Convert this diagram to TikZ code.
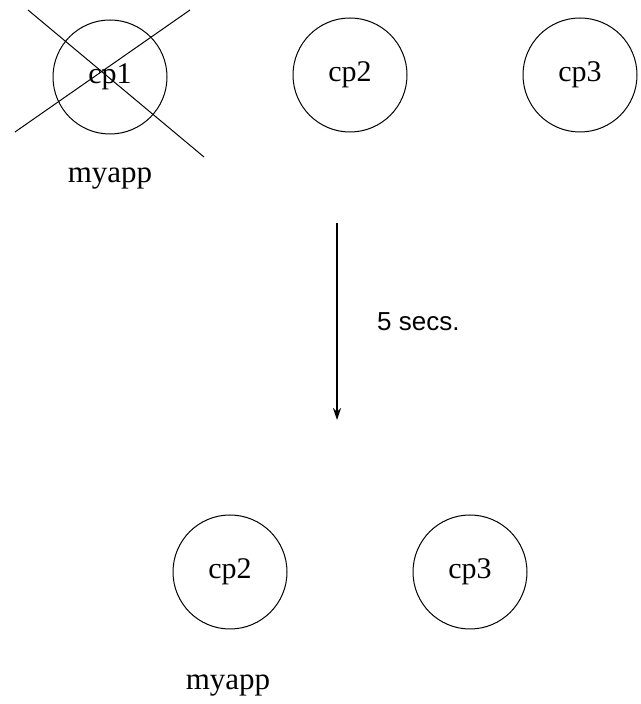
\documentclass[tikz,border=0pt]{standalone}
\usepackage{fontspec}
\setmainfont{Liberation Serif}
\newfontfamily\labelfont{Liberation Sans}
\usepackage{tikz}
\usetikzlibrary{arrows.meta}

\begin{document}
\begin{tikzpicture}[x=1pt,y=1pt,
  procnode/.style={draw=drawColor,circle,line width=1pt,minimum size=114pt,inner sep=0pt,font=\fontsize{30}{30}\selectfont},
  appnode/.style={anchor=base,inner sep=0pt,outer sep=0pt,font=\fontsize{31}{31}\selectfont}]
\definecolor{fillColor}{RGB}{255,255,255}
\definecolor{drawColor}{RGB}{0,0,0}
\path[use as bounding box,fill=fillColor] (0,0) rectangle (640,704);

% before
\node[procnode] (cpa) at (110,627) {cp1};
\node[procnode] (cpb) at (350,629) {cp2};
\node[procnode] (cpc) at (580,629) {cp3};
\node[appnode] (appa) at (110,521) {myapp};

\path[draw=drawColor,line width=1pt] ( 28,694) -- (204,547);
\path[draw=drawColor,line width=1pt] (190,694) -- ( 15,572);

% failover
\coordinate (arrowtop) at (337,481);
\coordinate (arrowend) at (337,284);
\draw[drawColor,line width=1.2pt,-{Stealth[length=12pt,width=8pt]}] (arrowtop) -- (arrowend);
\node[anchor=west,inner sep=0pt,font=\labelfont\fontsize{26}{26}\selectfont] (delay) at (377,382) {5 secs.};

% after
\node[procnode] (cpd) at (230,132) {cp2};
\node[procnode] (cpe) at (470,132) {cp3};
\node[appnode] (appb) at (228,14) {myapp};
\end{tikzpicture}
\end{document}
